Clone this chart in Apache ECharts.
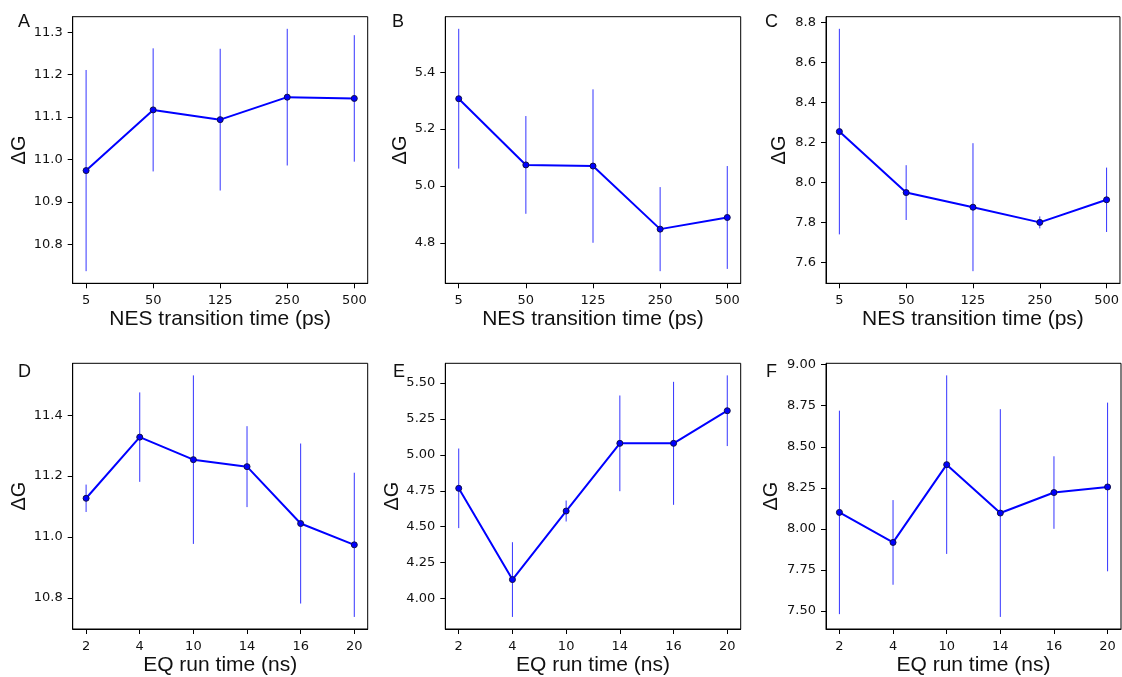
<!DOCTYPE html>
<html>
<head>
<meta charset="utf-8">
<title>ΔG vs NES transition time and EQ run time</title>
<script src="https://cdn.jsdelivr.net/npm/echarts@6/dist/echarts.min.js"></script>
<style>
  html, body { margin: 0; padding: 0; background: #fff; }
  #chart { width: 1122px; height: 677px; }
</style>
</head>
<body>
<div id="chart"></div>
<script>
// Categories on the x axes
const nesTimes = ['5', '50', '125', '250', '500'];
const eqTimes = ['2', '4', '10', '14', '16', '20'];

// ΔG means and error half-widths, panels A–C (vs NES transition time)
const dgA = [10.974, 11.117, 11.094, 11.147, 11.144];
const errA = [0.237, 0.145, 0.167, 0.161, 0.149];
const dgB = [5.307, 5.074, 5.070, 4.848, 4.889];
const errB = [0.246, 0.172, 0.270, 0.148, 0.181];
const dgC = [8.255, 7.950, 7.877, 7.801, 7.914];
const errC = [0.514, 0.137, 0.320, 0.030, 0.161];

// ΔG means and error half-widths, panels D–F (vs EQ run time)
const dgD = [11.127, 11.328, 11.254, 11.231, 11.044, 10.974];
const errD = [0.045, 0.147, 0.277, 0.133, 0.263, 0.237];
const dgE = [4.767, 4.132, 4.609, 5.080, 5.080, 5.307];
const errE = [0.277, 0.260, 0.073, 0.333, 0.428, 0.246];
const dgF = [8.100, 7.917, 8.391, 8.096, 8.221, 8.255];
const errF = [0.620, 0.258, 0.544, 0.633, 0.221, 0.514];

// y tick labels per panel
const ticksA = [10.8, 10.9, 11.0, 11.1, 11.2, 11.3];
const ticksB = [4.8, 5.0, 5.2, 5.4];
const ticksC = [7.6, 7.8, 8.0, 8.2, 8.4, 8.6, 8.8];
const ticksD = [10.8, 11.0, 11.2, 11.4];
const ticksE = [4.00, 4.25, 4.50, 4.75, 5.00, 5.25, 5.50];
const ticksF = [7.50, 7.75, 8.00, 8.25, 8.50, 8.75, 9.00];

const panels = [
  { letter: 'A', cats: nesTimes, mean: dgA, err: errA, ticks: ticksA, dec: 1, xName: 'NES transition time (ps)',
    box: [72.7, 16.7, 295, 266.6], yGap: 43, xGap: 25, letterPos: [18, 13] },
  { letter: 'B', cats: nesTimes, mean: dgB, err: errB, ticks: ticksB, dec: 1, xName: 'NES transition time (ps)',
    box: [445.3, 16.7, 295.4, 266.6], yGap: 35, xGap: 25, letterPos: [392, 13] },
  { letter: 'C', cats: nesTimes, mean: dgC, err: errC, ticks: ticksC, dec: 1, xName: 'NES transition time (ps)',
    box: [826, 16.7, 295, 266.6], yGap: 37, xGap: 25, letterPos: [765, 13] },
  { letter: 'D', cats: eqTimes, mean: dgD, err: errD, ticks: ticksD, dec: 1, xName: 'EQ run time (ns)',
    box: [72.7, 363.3, 295, 265.7], yGap: 43, xGap: 26, letterPos: [18, 363] },
  { letter: 'E', cats: eqTimes, mean: dgE, err: errE, ticks: ticksE, dec: 2, xName: 'EQ run time (ns)',
    box: [445.3, 363.3, 295.4, 265.7], yGap: 40, xGap: 26, letterPos: [393, 363] },
  { letter: 'F', cats: eqTimes, mean: dgF, err: errF, ticks: ticksF, dec: 2, xName: 'EQ run time (ns)',
    box: [826, 363.3, 295, 265.7], yGap: 45, xGap: 26, letterPos: [766, 363] }
];

const tickFont = { fontFamily: 'DejaVu Sans', fontSize: 13, color: '#111' };
const titleFont = 'Liberation Sans';

const grid = [], xAxis = [], yAxis = [], series = [], graphic = [];

panels.forEach((p, k) => {
  const n = p.cats.length;
  const idx = p.cats.map((_, i) => i);
  const lows = p.mean.map((v, i) => v - p.err[i]);
  const highs = p.mean.map((v, i) => v + p.err[i]);
  const lo = Math.min(...lows), hi = Math.max(...highs);
  const pad = 0.05 * (hi - lo);
  const xPad = 0.05 * (n - 1);

  grid.push({
    left: p.box[0], top: p.box[1], width: p.box[2], height: p.box[3],
    show: true, borderColor: '#000', borderWidth: 1, backgroundColor: 'transparent'
  });

  xAxis.push({
    type: 'value', gridIndex: k,
    min: -xPad, max: n - 1 + xPad,
    name: p.xName, nameLocation: 'middle', nameGap: p.xGap,
    nameTextStyle: { fontFamily: titleFont, fontSize: 21, color: '#111' },
    axisLine: { show: true, onZero: false, lineStyle: { color: '#000', width: 1 } },
    axisTick: { show: true, length: 5, lineStyle: { color: '#000' }, customValues: idx },
    axisLabel: {
      ...tickFont, margin: 11, customValues: idx,
      formatter: v => p.cats[Math.round(v)]
    },
    splitLine: { show: false }
  });

  yAxis.push({
    type: 'value', gridIndex: k,
    min: lo - pad, max: hi + pad,
    name: 'ΔG', nameLocation: 'middle', nameGap: p.yGap,
    nameTextStyle: { fontFamily: titleFont, fontSize: 20, color: '#111' },
    axisLine: { show: true, onZero: false, lineStyle: { color: '#000', width: 1 } },
    axisTick: { show: true, length: 5, lineStyle: { color: '#000' }, customValues: p.ticks },
    axisLabel: {
      ...tickFont, margin: 10, customValues: p.ticks,
      formatter: v => Number(v).toFixed(p.dec)
    },
    splitLine: { show: false }
  });

  // error bars
  series.push({
    type: 'custom', xAxisIndex: k, yAxisIndex: k, z: 3,
    data: idx.map(i => [i, lows[i], highs[i]]),
    encode: { x: 0, y: [1, 2] },
    renderItem: (params, api) => {
      const a = api.coord([api.value(0), api.value(1)]);
      const b = api.coord([api.value(0), api.value(2)]);
      return {
        type: 'line',
        shape: { x1: a[0], y1: a[1], x2: b[0], y2: b[1] },
        style: { stroke: 'rgba(0,0,255,0.8)', lineWidth: 1 }
      };
    },
    silent: true
  });

  // mean ΔG line with markers
  series.push({
    type: 'line', xAxisIndex: k, yAxisIndex: k, z: 4,
    data: idx.map(i => [i, p.mean[i]]),
    symbol: 'circle', symbolSize: 6,
    lineStyle: { color: '#0000ff', width: 2 },
    itemStyle: { color: '#0000ff', borderColor: '#10104a', borderWidth: 1 },
    silent: true
  });

  graphic.push({
    type: 'text', x: p.letterPos[0], y: p.letterPos[1],
    style: { text: p.letter, font: '18px "Liberation Sans"', fill: '#111' }
  });
});

const chart = echarts.init(document.getElementById('chart'), null, { renderer: 'canvas' });
chart.setOption({
  animation: false,
  backgroundColor: '#fff',
  grid, xAxis, yAxis, series, graphic
});
</script>
</body>
</html>
